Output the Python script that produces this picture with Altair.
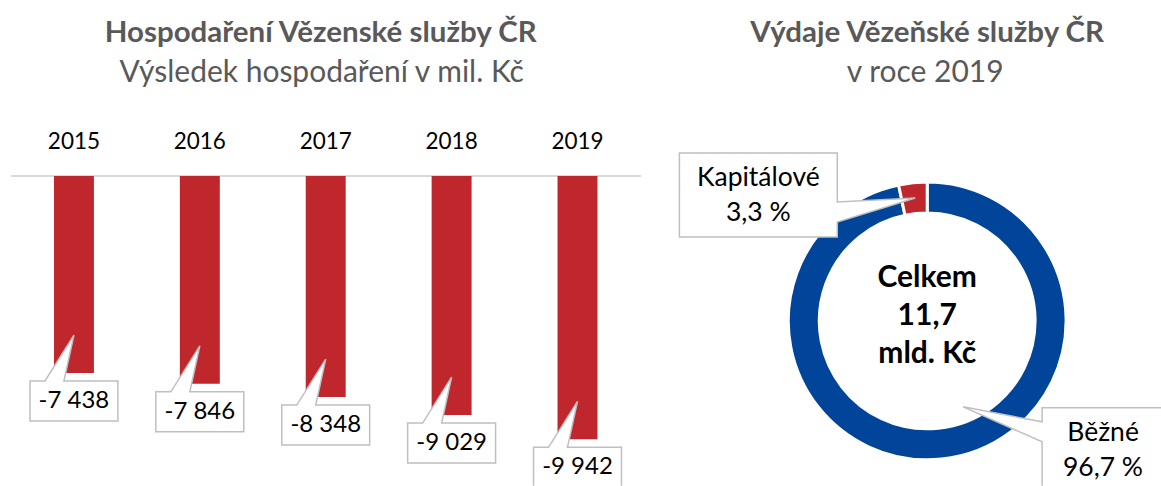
import altair as alt
import pandas as pd

# ---- data ----
years = ["2015", "2016", "2017", "2018", "2019"]
results = [-7438, -7846, -8348, -9029, -9942]
bar_labels = [f"{v:,}".replace(",", " ") for v in results]

pie_cats = ["Běžné", "Kapitálové"]
pie_shares = [96.7, 3.3]
pie_order = [0, 1]
total_bn = 11.7

title_left = "Hospodaření Vězenské služby ČR"
subtitle_left = "Výsledek hospodaření v mil. Kč"
title_right = "Výdaje Vězeňské služby ČR"
subtitle_right = "v roce 2019"

FONT = "Lato"
RED = "#C0272D"
BLUE = "#00459A"
GRAY_T = "#595959"
BOX = "#BFBFBF"

bars_df = pd.DataFrame({"year": years, "value": results, "label": bar_labels})
pie_df = pd.DataFrame({"cat": pie_cats, "share": pie_shares, "idx": pie_order})

W1, H = 630, 486
W2 = 468

# ---- bar panel ----
xenc = alt.X("year:O", axis=None, scale=alt.Scale(paddingInner=0, paddingOuter=0))
ysc = alt.Scale(domain=[-11698, 6642], nice=False, zero=False)
yenc = alt.Y("value:Q", axis=None, scale=ysc)
y0 = alt.Y("zero:Q", axis=None, scale=ysc)

base = alt.Chart(bars_df).transform_calculate(zero="0")
zero_line = base.mark_rule(color="#D9D9D9", strokeWidth=2).encode(y=y0)
bars = base.mark_bar(size=40, color=RED).encode(x=xenc, y=yenc, y2="zero:Q")
year_txt = base.mark_text(font=FONT, fontSize=22.5, baseline="alphabetic", color="black", dy=-27).encode(
    x=xenc, y=y0, text="year:N")
callout_path = "M-44,8 H-29 L0,-38 L-10,8 H44 V48 H-44 Z"
callouts = base.mark_point(shape=callout_path, size=4, filled=True, fill="white", stroke=BOX,
                           strokeWidth=1.5, opacity=1, clip=True).encode(x=xenc, y=yenc)
callout_txt = base.mark_text(font=FONT, fontSize=24, baseline="middle", color="black", dy=28).encode(
    x=xenc, y=yenc, text="label:N")

t1 = alt.Chart(pd.DataFrame({"t": [title_left]})).mark_text(
    font=FONT, fontSize=29.5, fontWeight="bold", color=GRAY_T, baseline="alphabetic").encode(
    x=alt.value(310), y=alt.value(42), text="t:N")
t2 = alt.Chart(pd.DataFrame({"t": [subtitle_left]})).mark_text(
    font=FONT, fontSize=30, color=GRAY_T, baseline="alphabetic").encode(
    x=alt.value(311), y=alt.value(82), text="t:N")

left = alt.layer(zero_line, bars, year_txt, callouts, callout_txt, t1, t2).properties(width=W1, height=H)

# ---- donut panel ----
CX, CY = W2 / 2, 321
pbase = alt.Chart(pie_df)
arcs = pbase.mark_arc(outerRadius=139, innerRadius=108, stroke="white", strokeWidth=3).encode(
    theta=alt.Theta("share:Q", stack=True),
    order=alt.Order("idx:Q"),
    color=alt.Color("cat:N", scale=alt.Scale(domain=pie_cats, range=[BLUE, RED]), legend=None),
    x=alt.value(CX), y=alt.value(CY),
)

pct = "replace(format(datum.share, '.1f'), '.', ',') + ' %'"
kap_path = "M-248,-168 H-90 V-119 L-12,-123 L-90,-99 V-84 H-248 Z"
bez_path = "M115,87 H250 V180 H115 V121 L36,86 L115,101 Z"

kap_box = pbase.transform_filter("datum.idx == 1").mark_point(
    shape=kap_path, size=4, filled=True, fill="white", stroke=BOX, strokeWidth=1.5, opacity=1).encode(
    x=alt.value(CX), y=alt.value(CY))
bez_box = pbase.transform_filter("datum.idx == 0").mark_point(
    shape=bez_path, size=4, filled=True, fill="white", stroke=BOX, strokeWidth=1.5, opacity=1, clip=True).encode(
    x=alt.value(CX), y=alt.value(CY))

kap_txt = pbase.transform_filter("datum.idx == 1").transform_calculate(
    lab="datum.cat + '\\n' + " + pct).mark_text(
    font=FONT, fontSize=26.5, lineBreak="\n", lineHeight=35, baseline="middle", color="black",
    dx=-169, dy=-143).encode(x=alt.value(CX), y=alt.value(CY), text="lab:N")
bez_txt = pbase.transform_filter("datum.idx == 0").transform_calculate(
    lab="datum.cat + '\\n' + " + pct).mark_text(
    font=FONT, fontSize=26.5, lineBreak="\n", lineHeight=35, baseline="middle", color="black",
    dx=176, dy=112).encode(x=alt.value(CX), y=alt.value(CY), text="lab:N")

center_df = pd.DataFrame({"total": [total_bn]})
center_txt = alt.Chart(center_df).transform_calculate(
    lab="'Celkem\\n' + replace(format(datum.total, '.1f'), '.', ',') + '\\nmld. Kč'").mark_text(
    font=FONT, fontSize=30, fontWeight="bold", lineBreak="\n", lineHeight=38, baseline="middle",
    color="black").encode(x=alt.value(CX), y=alt.value(CY - 43), text="lab:N")

t3 = alt.Chart(pd.DataFrame({"t": [title_right]})).mark_text(
    font=FONT, fontSize=29.5, fontWeight="bold", color=GRAY_T, baseline="alphabetic").encode(
    x=alt.value(CX), y=alt.value(42), text="t:N")
t4 = alt.Chart(pd.DataFrame({"t": [subtitle_right]})).mark_text(
    font=FONT, fontSize=30, color=GRAY_T, baseline="alphabetic").encode(
    x=alt.value(CX - 2), y=alt.value(82), text="t:N")

right = alt.layer(arcs, kap_box, bez_box, kap_txt, bez_txt, center_txt, t3, t4).properties(width=W2, height=H)

chart = alt.hconcat(left, right, spacing=53).properties(
    padding={"left": 10, "top": 0, "right": 0, "bottom": 0},
    bounds="flush",
    background="white",
).configure_view(stroke=None)

chart.save("out.html", embed_options={"renderer": "svg", "actions": False})
